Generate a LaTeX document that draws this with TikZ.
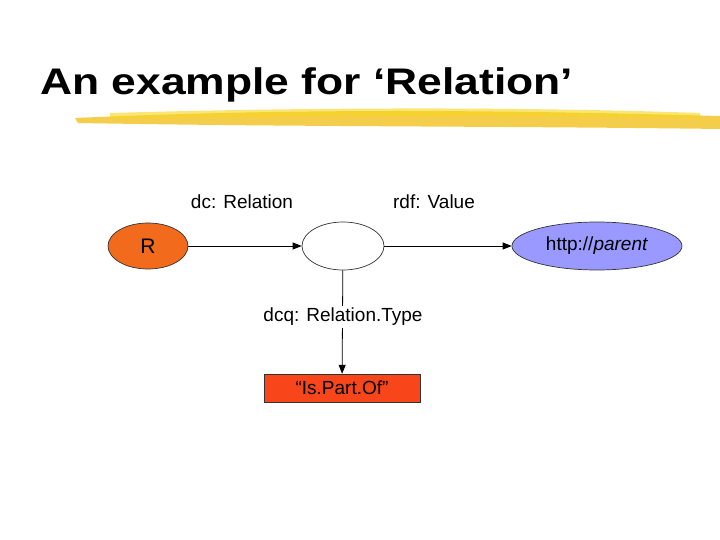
\documentclass[tikz,border=0pt]{standalone}
\usepackage{fontspec}
\setmainfont{Liberation Sans}
\usetikzlibrary{shapes.geometric,arrows.meta}
\definecolor{rfill}{HTML}{F26A1B}
\definecolor{bfill}{HTML}{9999FF}
\definecolor{boxfill}{HTML}{F8461A}
\definecolor{brush}{HTML}{F2C52A}
\begin{document}
\begin{tikzpicture}[x=1pt,y=-1pt,
  lbl/.style={font=\fontsize{19}{22}\selectfont},
  ell/.style={ellipse,draw=black!80,line width=0.7pt,inner sep=0pt},
  arr/.style={-{Triangle[length=9pt,width=7pt]},line width=0.8pt}]
\useasboundingbox (0,0) rectangle (720,540);
\node[anchor=base west,font=\fontsize{37}{42}\selectfont\bfseries,inner sep=0pt,xscale=1.2] (title) at (40,95) {An example for ‘Relation’};
\fill[brush,opacity=0.85] (75,118) .. controls (300,108) and (500,110) .. (720,116) -- (720,129) .. controls (500,126) and (300,127) .. (78,123) -- cycle;
\fill[brush!70!yellow,opacity=0.6] (110,113) .. controls (350,106) and (560,108) .. (700,113) -- (700,118) .. controls (560,116) and (350,115) .. (110,118) -- cycle;
\node[ell,fill=rfill,minimum width=80,minimum height=46,font=\fontsize{21}{24}\selectfont] (r) at (148,246) {R};
\node[ell,fill=white,minimum width=82,minimum height=48] (b) at (343,246) {};
\node[ell,fill=bfill,minimum width=170,minimum height=48,lbl] (h) at (597,246) {http://\textit{parent}};
\node[draw=black!80,fill=boxfill,minimum width=156,minimum height=28,inner sep=0pt,lbl] (box) at (342,388) {“Is.Part.Of”};
\node[lbl] (l1) at (242,202) {dc: Relation};
\node[lbl] (l2) at (434,202) {rdf: Value};
\draw[arr] (r) -- (b);
\draw[arr] (b) -- (h);
\draw[arr] (b) -- (box);
\node[lbl,fill=white,inner sep=2pt] (l3) at (343,317) {dcq: Relation.Type};
\end{tikzpicture}
\end{document}
